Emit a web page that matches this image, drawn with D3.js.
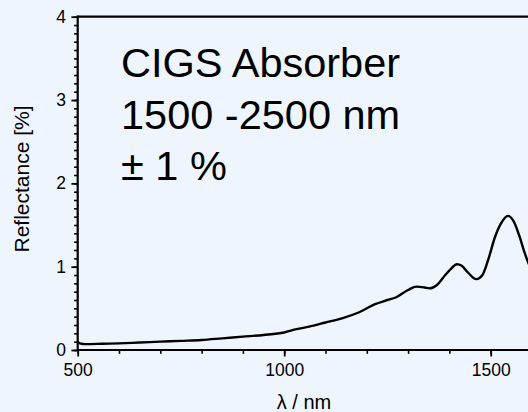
<!DOCTYPE html>
<html>
<head>
<meta charset="utf-8">
<script src="https://cdn.jsdelivr.net/npm/d3@7"></script>
<style>
  html, body { margin: 0; padding: 0; background: #eef5fd; }
  svg { display: block; font-family: "Liberation Sans", Arial, sans-serif; }
</style>
</head>
<body>
<div id="chart"></div>
<script>
// wavelength [nm] and reflectance [%]
const wavelength = [500, 505, 520, 560, 600, 650, 700, 750, 800, 850, 900, 950, 1000, 1030, 1060, 1100, 1140, 1180, 1220, 1250, 1270, 1300, 1320, 1340, 1352, 1370, 1390, 1405, 1418, 1430, 1445, 1465, 1480, 1495, 1510, 1525, 1542, 1555, 1570, 1580, 1590, 1600];
const reflectance = [0.10, 0.08, 0.07, 0.075, 0.08, 0.09, 0.10, 0.11, 0.12, 0.14, 0.16, 0.18, 0.21, 0.25, 0.28, 0.33, 0.38, 0.45, 0.55, 0.60, 0.63, 0.72, 0.76, 0.75, 0.74, 0.78, 0.90, 0.98, 1.03, 1.01, 0.93, 0.85, 0.90, 1.10, 1.35, 1.52, 1.61, 1.55, 1.36, 1.20, 1.06, 0.95];

const xMajor = [500, 1000, 1500];
const xMinor = d3.range(500, 1601, 100);
const yMajor = [0, 1, 2, 3, 4];
const yMinor = d3.range(0, 40.5, 1).map(d => d / 10);

const titleLines = ["CIGS Absorber", "1500 -2500 nm", "\u00b1 1 %"];

const W = 528, H = 412;
const FONT = '"Liberation Sans", Arial, sans-serif';
const x = d3.scaleLinear().domain([500, 1500]).range([77.7, 490.7]);
const y = d3.scaleLinear().domain([0, 4]).range([350, 16.7]);

const svg = d3.select("#chart").append("svg")
    .attr("width", W).attr("height", H);

svg.append("rect").attr("width", W).attr("height", H).attr("fill", "#eef5fd");

// minor ticks
svg.append("g")
    .attr("transform", `translate(0,${y(0)})`)
    .call(d3.axisBottom(x).tickValues(xMinor).tickSize(3.8).tickSizeOuter(0).tickFormat(""))
    .call(g => g.select(".domain").remove())
    .selectAll("line").attr("stroke-width", 1.6);

svg.append("g")
    .attr("transform", `translate(${x(500)},0)`)
    .call(d3.axisLeft(y).tickValues(yMinor).tickSize(3.6).tickSizeOuter(0).tickFormat(""))
    .call(g => g.select(".domain").remove())
    .selectAll("line").attr("stroke-width", 1.6);

// major ticks + labels
svg.append("g")
    .attr("transform", `translate(0,${y(0)})`)
    .call(d3.axisBottom(x).tickValues(xMajor).tickFormat(d3.format("d"))
        .tickSize(6.5).tickSizeOuter(0).tickPadding(7))
    .attr("font-family", FONT).attr("font-size", 17.5)
    .call(g => g.select(".domain").remove())
    .call(g => g.selectAll("line").attr("stroke-width", 1.8))
    .call(g => g.selectAll("text").attr("fill", "#000"));

svg.append("g")
    .attr("transform", `translate(${x(500)},0)`)
    .call(d3.axisLeft(y).tickValues(yMajor).tickFormat(d3.format("d"))
        .tickSize(6.3).tickSizeOuter(0).tickPadding(5.5))
    .attr("font-family", FONT).attr("font-size", 17.5)
    .call(g => g.select(".domain").remove())
    .call(g => g.selectAll("line").attr("stroke-width", 1.8))
    .call(g => g.selectAll("text").attr("fill", "#000"));

// frame
svg.append("line")
    .attr("x1", x(500)).attr("x2", W + 10)
    .attr("y1", y(0)).attr("y2", y(0))
    .attr("stroke", "#000").attr("stroke-width", 2.2);
svg.append("line")
    .attr("x1", x(500)).attr("x2", W + 10)
    .attr("y1", y(4)).attr("y2", y(4))
    .attr("stroke", "#000").attr("stroke-width", 2.2);
svg.append("line")
    .attr("x1", x(500)).attr("x2", x(500))
    .attr("y1", y(0) + 1.1).attr("y2", y(4) - 1.1)
    .attr("stroke", "#000").attr("stroke-width", 2.2);

// curve
const line = d3.line()
    .x((d, i) => x(wavelength[i]))
    .y(d => y(d))
    .curve(d3.curveMonotoneX);

svg.append("path")
    .datum(reflectance)
    .attr("d", line)
    .attr("fill", "none")
    .attr("stroke", "#000")
    .attr("stroke-width", 2.4)
    .attr("stroke-linejoin", "round");

// axis titles
svg.append("text")
    .attr("x", 304).attr("y", 409)
    .attr("text-anchor", "middle")
    .attr("font-size", 20)
    .text("\u03bb / nm");

svg.append("text")
    .attr("transform", "translate(28.5,179) rotate(-90)")
    .attr("text-anchor", "middle")
    .attr("font-size", 21)
    .text("Reflectance [%]");

// annotation
svg.append("g").selectAll("text")
    .data(titleLines)
    .join("text")
    .attr("x", 121)
    .attr("y", (d, i) => 77 + i * 51.5)
    .attr("font-size", 41.5)
    .text(d => d);
</script>
</body>
</html>
